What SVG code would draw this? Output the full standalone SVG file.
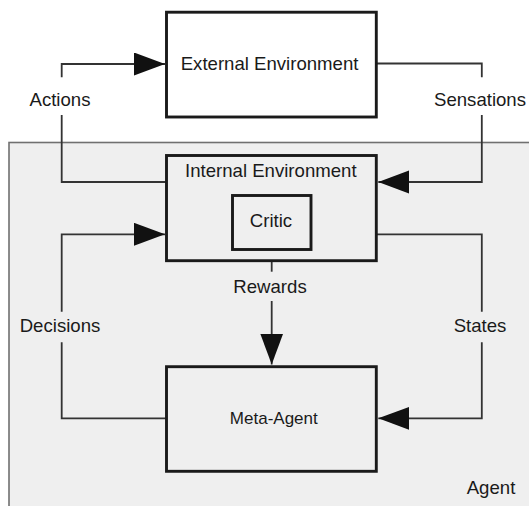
<svg xmlns="http://www.w3.org/2000/svg" width="529" height="506" viewBox="0 0 529 506">
  <style>
    .box { stroke: #1a1a1a; stroke-width: 2.9; }
    .wire { fill: none; stroke: #333; stroke-width: 1.8; }
    .lbl { font-family: "Liberation Sans", Arial, sans-serif; font-size: 18.6px; fill: #1a1a1a; text-anchor: middle; }
  </style>
  <defs>
    <marker id="head" markerUnits="userSpaceOnUse" markerWidth="32" markerHeight="24" refX="31" refY="11.5" orient="auto">
      <path d="M0,0 L31,11.5 L0,23 Z" fill="#111"/>
    </marker>
  </defs>

  <rect width="529" height="506" fill="#fff"/>

  <!-- agent region -->
  <g id="agent">
    <rect x="9" y="142.5" width="530" height="380" fill="#efefef" stroke="#707070" stroke-width="1.6"/>
    <text class="lbl" x="491" y="493.5">Agent</text>
  </g>

  <!-- connectors -->
  <g id="connectors">
    <!-- actions -->
    <path class="wire" d="M166.5,182 H61.7 V115"/>
    <path class="wire" d="M61.7,77.3 V64 H165" marker-end="url(#head)"/>
    <text class="lbl" x="60" y="105.7">Actions</text>
    <!-- sensations -->
    <path class="wire" d="M376.3,63.5 H481.8 V77.3"/>
    <path class="wire" d="M481.8,115 V182 H378.3" marker-end="url(#head)"/>
    <text class="lbl" x="480" y="105.7">Sensations</text>
    <!-- decisions -->
    <path class="wire" d="M166.5,418.3 H61.7 V342.3"/>
    <path class="wire" d="M61.7,311.7 V234.3 H165" marker-end="url(#head)"/>
    <text class="lbl" x="60" y="332.3">Decisions</text>
    <!-- states -->
    <path class="wire" d="M376.3,234.3 H481.8 V311.7"/>
    <path class="wire" d="M481.8,342.3 V418.3 H378.3" marker-end="url(#head)"/>
    <text class="lbl" x="480" y="332.3">States</text>
    <!-- rewards -->
    <path class="wire" d="M271.7,249.5 V271.7"/>
    <path class="wire" d="M271.7,301 V364.5" marker-end="url(#head)"/>
    <text class="lbl" x="270" y="292.7">Rewards</text>
  </g>

  <g id="external-environment">
    <rect class="box" x="166.5" y="12.2" width="209.8" height="104.8" fill="#fff"/>
    <text class="lbl" x="269.6" y="70">External Environment</text>
  </g>

  <g id="internal-environment">
    <rect class="box" x="166.5" y="155.5" width="209.8" height="105.2" fill="#efefef"/>
    <text class="lbl" x="270.8" y="176.7">Internal Environment</text>
  </g>

  <g id="critic">
    <rect class="box" x="232.5" y="195.5" width="78.5" height="54" fill="#efefef"/>
    <text class="lbl" x="271" y="227.3">Critic</text>
  </g>

  <g id="meta-agent">
    <rect class="box" x="166.5" y="366.7" width="209.8" height="104.6" fill="#efefef"/>
    <text class="lbl" x="273.8" y="424" style="font-size:17px">Meta-Agent</text>
  </g>
</svg>
